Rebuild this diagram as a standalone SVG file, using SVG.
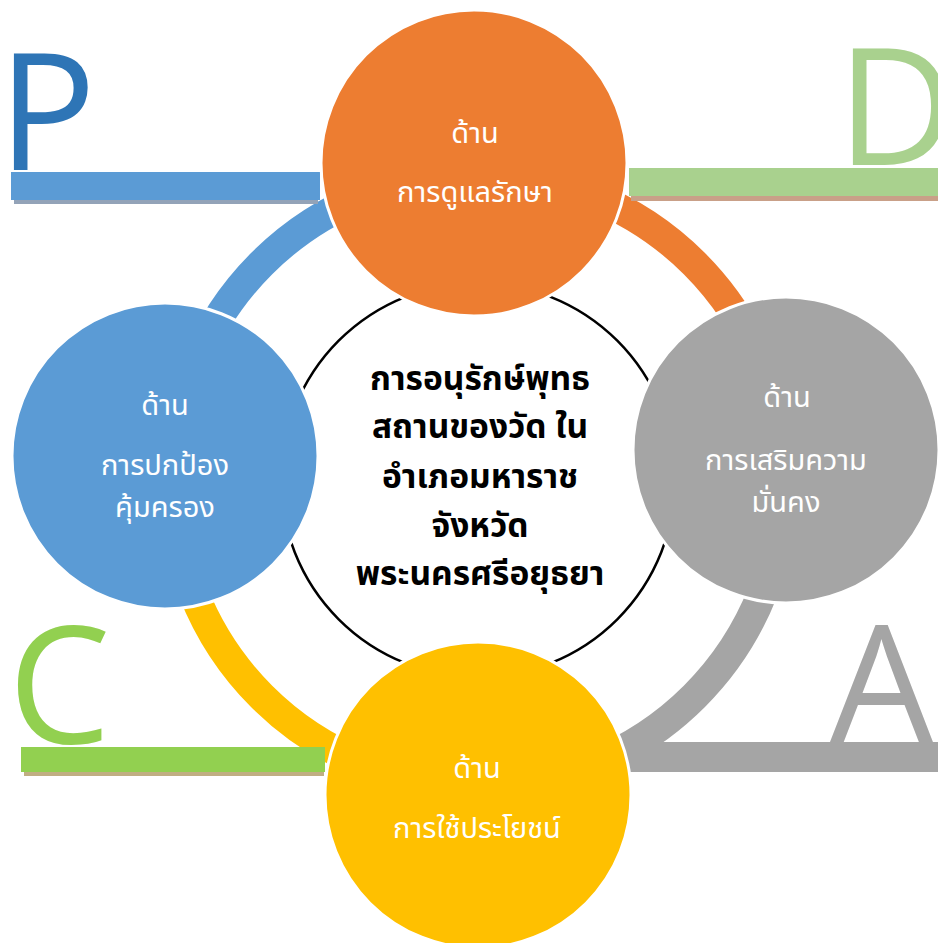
<svg xmlns="http://www.w3.org/2000/svg" width="938" height="943" viewBox="0 0 938 943">
<style>
.th{font-family:"Noto Sans Thai","Leelawadee UI","Tahoma","Noto Sans","DejaVu Sans",sans-serif;text-anchor:middle}
.lbl{fill:#ffffff;font-size:29px}
.ctr{fill:#000000;font-size:33.5px;font-weight:bold}
.big{font-family:"Open Sans","Liberation Sans",sans-serif;font-size:163px}
.node{stroke:#ffffff;stroke-width:3}
.arc{fill:none;stroke-width:30}
</style>
<rect width="938" height="943" fill="#ffffff"/>
<g id="connectors">
<path class="arc" stroke="#5b9bd5" d="M172 480 A306 306 0 0 1 478 174"/>
<path class="arc" stroke="#ed7d31" d="M478 174 A306 306 0 0 1 784 480"/>
<path class="arc" stroke="#a5a5a5" d="M784 480 A306 306 0 0 1 478 786"/>
<path class="arc" stroke="#ffc000" d="M478 786 A306 306 0 0 1 172 480"/>
</g>
<g id="bars">
<rect x="14" y="176" width="304" height="28" fill="#93a3b8"/>
<rect x="11" y="172" width="309" height="28" fill="#5b9bd5"/>
<rect x="631" y="172" width="307" height="29" fill="#c9a088"/>
<rect x="629" y="168" width="309" height="28" fill="#a9d18e"/>
<rect x="24" y="751" width="300" height="25" fill="#c0ae82"/>
<rect x="21" y="747" width="304" height="25" fill="#92d050"/>
<rect x="625" y="742" width="313" height="30" fill="#a5a5a5"/>
</g>
<g id="letters">
<text class="big" x="-2" y="170" fill="#2e75b6">P</text>
<text class="big" x="837" y="165" fill="#a9d18e">D</text>
<text class="big" x="8" y="743" fill="#92d050">C</text>
<text class="big" x="830" y="742" fill="#a5a5a5">A</text>
</g>
<g id="center">
<circle cx="478" cy="480" r="197" fill="#ffffff" stroke="#000000" stroke-width="2.5"/>
<text class="th ctr" x="480" y="390">การอนุรักษ์พุทธ</text>
<text class="th ctr" x="480" y="438">สถานของวัด ใน</text>
<text class="th ctr" x="480" y="488">อำเภอมหาราช</text>
<text class="th ctr" x="480" y="537">จังหวัด</text>
<text class="th ctr" x="480" y="585">พระนครศรีอยุธยา</text>
</g>
<g id="node-top">
<circle class="node" cx="474" cy="163" r="153" fill="#ed7d31"/>
<text class="th lbl" x="475" y="143">ด้าน</text>
<text class="th lbl" x="475" y="202">การดูแลรักษา</text>
</g>
<g id="node-right">
<circle class="node" cx="786" cy="450" r="153" fill="#a5a5a5"/>
<text class="th lbl" x="787" y="407">ด้าน</text>
<text class="th lbl" x="786" y="470">การเสริมความ</text>
<text class="th lbl" x="786" y="512">มั่นคง</text>
</g>
<g id="node-bottom">
<circle class="node" cx="478" cy="795" r="153" fill="#ffc000"/>
<text class="th lbl" x="477" y="778">ด้าน</text>
<text class="th lbl" x="477" y="838">การใช้ประโยชน์</text>
</g>
<g id="node-left">
<circle class="node" cx="165" cy="456" r="153" fill="#5b9bd5"/>
<text class="th lbl" x="165" y="415">ด้าน</text>
<text class="th lbl" x="165" y="475">การปกป้อง</text>
<text class="th lbl" x="165" y="517">คุ้มครอง</text>
</g>
</svg>
